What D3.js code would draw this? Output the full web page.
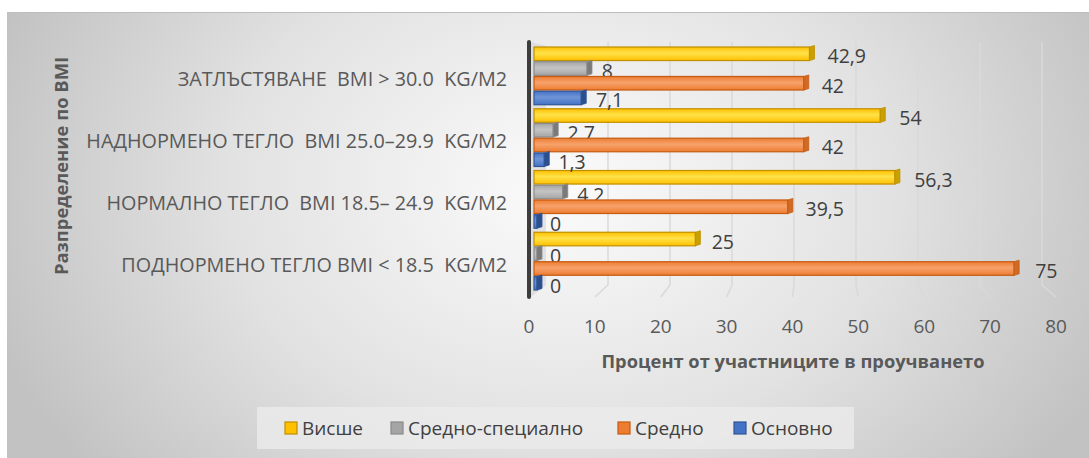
<!DOCTYPE html>
<html><head><meta charset="utf-8">
<script src="https://cdn.jsdelivr.net/npm/d3@7"></script>
<style>
html,body{margin:0;padding:0;background:#fff;}
svg text{font-family:"Open Sans","Noto Sans",sans-serif;white-space:pre;}
</style></head>
<body>
<svg id="chart" width="1089" height="458"></svg>
<script>
// ---- data ----
const categories = [
  "ПОДНОРМЕНО ТЕГЛО BMI < 18.5  KG/M2",
  "НОРМАЛНО ТЕГЛО  BMI 18.5– 24.9  KG/M2",
  "НАДНОРМЕНО ТЕГЛО  BMI 25.0–29.9  KG/M2",
  "ЗАТЛЪСТЯВАНЕ  BMI > 30.0  KG/M2"
];
const seriesNames = ["Висше", "Средно-специално", "Средно", "Основно"];
const visshe = [25, 56.3, 54, 42.9];
const sredSpec = [0, 4.2, 2.7, 8];
const sredno = [75, 39.5, 42, 42];
const osnovno = [0, 0, 1.3, 7.1];
const xTicks = [0, 10, 20, 30, 40, 50, 60, 70, 80];
const yTitle = "Разпределение по BMI";
const xTitle = "Процент от участниците в проучването";

const seriesValues = [visshe, sredSpec, sredno, osnovno];
const colors = {
  "Висше": {face0:"#ffe24a", face1:"#ffc000", edge:"#bf9000", cap:"#c9a000"},
  "Средно-специално": {face0:"#c4c4c4", face1:"#a5a5a5", edge:"#8a8a8a", cap:"#7a7a7a"},
  "Средно": {face0:"#f7a26c", face1:"#ed7d31", edge:"#c55a11", cap:"#d06a25"},
  "Основно": {face0:"#6f95d8", face1:"#4472c4", edge:"#2f5597", cap:"#2c4f8e"}
};

const svg = d3.select("#chart");
const W = 1089, H = 458;
const defs = svg.append("defs");

// background gradient
const bg = defs.append("radialGradient").attr("id","bgGrad")
  .attr("gradientUnits","userSpaceOnUse").attr("cx",560).attr("cy",190).attr("r",600)
  .attr("gradientTransform","translate(560,190) scale(1,0.75) translate(-560,-190)");
bg.append("stop").attr("offset","0").attr("stop-color","#fbfbfb");
bg.append("stop").attr("offset","0.55").attr("stop-color","#e2e2e2");
bg.append("stop").attr("offset","1").attr("stop-color","#c2c2c2");

seriesNames.forEach((s,i)=>{
  const g = defs.append("linearGradient").attr("id","bar"+i).attr("x1",0).attr("y1",0).attr("x2",0).attr("y2",1);
  g.append("stop").attr("offset","0").attr("stop-color",colors[s].face1);
  g.append("stop").attr("offset","0.45").attr("stop-color",colors[s].face0);
  g.append("stop").attr("offset","1").attr("stop-color",colors[s].face1);
});

svg.append("rect").attr("x",7).attr("y",12).attr("width",W-7).attr("height",H-12).attr("fill","url(#bgGrad)");
svg.append("line").attr("x1",7).attr("x2",W).attr("y1",12.5).attr("y2",12.5).attr("stroke","#bdbdbd").attr("stroke-width",1);

// ---- scales ----
const yCat = d3.scaleBand().domain(categories.slice().reverse()).range([45, 292]);
const ySer = d3.scaleBand().domain(seriesNames).range([2, yCat.bandwidth()-2]).paddingInner(0.08);
const xBar = d3.scaleLinear().domain([0,80]).range([541, 1051]);   // visible bar end
const xGrid = d3.scaleLinear().domain([0,80]).range([546, 1042]);  // back wall gridlines
const xAxisS = d3.scaleLinear().domain([0,80]).range([529, 1056]); // floor front (tick labels)
const xLabel = d3.scaleLinear().domain([0,80]).range([550, 1067.5]); // data labels
const barStart = xBar(0) - 7;
const capW = 5;

const fmt = d3.formatLocale({decimal:",", thousands:" ", grouping:[3], currency:["",""]}).format("~g");

// gridlines with floor feet
const gridTop = 42, gridBottom = 285, floorY = 297;
svg.append("g").selectAll("path").data(xTicks.filter(d=>d>0)).join("path")
  .attr("d", d => `M${xGrid(d)},${gridTop} L${xGrid(d)},${gridBottom} L${xAxisS(d)},${floorY}`)
  .attr("fill","none").attr("stroke","#d9d9d9").attr("stroke-width",1.5);

// side wall
svg.append("path")
  .attr("d", `M${xAxisS(0)+2},${gridTop} L${xGrid(0)},${gridTop+4} L${xGrid(0)},${gridBottom} L${xAxisS(0)+2},${floorY}Z`)
  .attr("fill","#d4d4d4").attr("opacity",0.6);
svg.append("line").attr("x1",xAxisS(0)).attr("x2",xAxisS(0)).attr("y1",gridTop).attr("y2",floorY)
  .attr("stroke","#3d3d3d").attr("stroke-width",4).attr("stroke-linecap","round");

// bars
const groups = svg.append("g").selectAll("g").data(categories).join("g")
  .attr("transform", d => `translate(0,${yCat(d)})`);
groups.each(function(cat, ci){
  const g = d3.select(this);
  seriesNames.forEach((s, si) => {
    const v = seriesValues[si][ci];
    const y = ySer(s), h = ySer.bandwidth();
    const end = xBar(v);
    const faceEnd = Math.max(end - capW, barStart + 3);
    g.append("rect").attr("x", barStart).attr("y", y).attr("width", faceEnd - barStart).attr("height", h)
      .attr("fill", `url(#bar${si})`).attr("stroke", colors[s].edge).attr("stroke-width", 1.2);
    g.append("path")
      .attr("d", `M${faceEnd},${y} L${faceEnd+capW},${y-1.5} L${faceEnd+capW},${y+h-1.5} L${faceEnd},${y+h}Z`)
      .attr("fill", colors[s].cap).attr("stroke", colors[s].edge).attr("stroke-width",0.8);
    g.append("text").attr("x", xLabel(v)).attr("y", y + h/2 + 2)
      .attr("dominant-baseline","central").attr("font-size",19.5).attr("fill","#404040")
      .text(fmt(v));
  });
});

// category labels
svg.append("g").selectAll("text").data(categories).join("text")
  .attr("x", 507).attr("y", d => yCat(d) + yCat.bandwidth()/2 + 3)
  .attr("text-anchor","end").attr("dominant-baseline","central")
  .attr("font-size",19.8).attr("fill","#595959").text(d => d);

// x tick labels
svg.append("g").selectAll("text").data(xTicks).join("text")
  .attr("x", d => xAxisS(d)).attr("y", 326).attr("text-anchor","middle").attr("dominant-baseline","central")
  .attr("font-size",19).attr("fill","#595959").text(d => d);

// axis titles
svg.append("text").attr("x", 793).attr("y", 360).attr("text-anchor","middle").attr("dominant-baseline","central")
  .attr("font-size",18.3).attr("font-weight","bold").attr("fill","#595959").text(xTitle);
svg.append("text").attr("transform","translate(60,166) rotate(-90)").attr("text-anchor","middle")
  .attr("dominant-baseline","central").attr("font-size",18.4).attr("font-weight","bold").attr("fill","#595959").text(yTitle);

// legend
svg.append("rect").attr("x",257).attr("y",407).attr("width",597).attr("height",42).attr("fill","#ebebeb").attr("opacity",0.8);
const legX = [285, 391, 618, 734];
const leg = svg.append("g").selectAll("g").data(seriesNames).join("g")
  .attr("transform", (d,i) => `translate(${legX[i]},428)`);
leg.append("rect").attr("x",0).attr("y",-6).attr("width",12).attr("height",12)
  .attr("fill",(d,i)=>colors[d].face1).attr("stroke",d=>colors[d].edge).attr("stroke-width",1.2);
leg.append("text").attr("x",17).attr("y",0).attr("dominant-baseline","central")
  .attr("font-size",19).attr("fill","#404040").text(d=>d);
</script>
</body></html>
